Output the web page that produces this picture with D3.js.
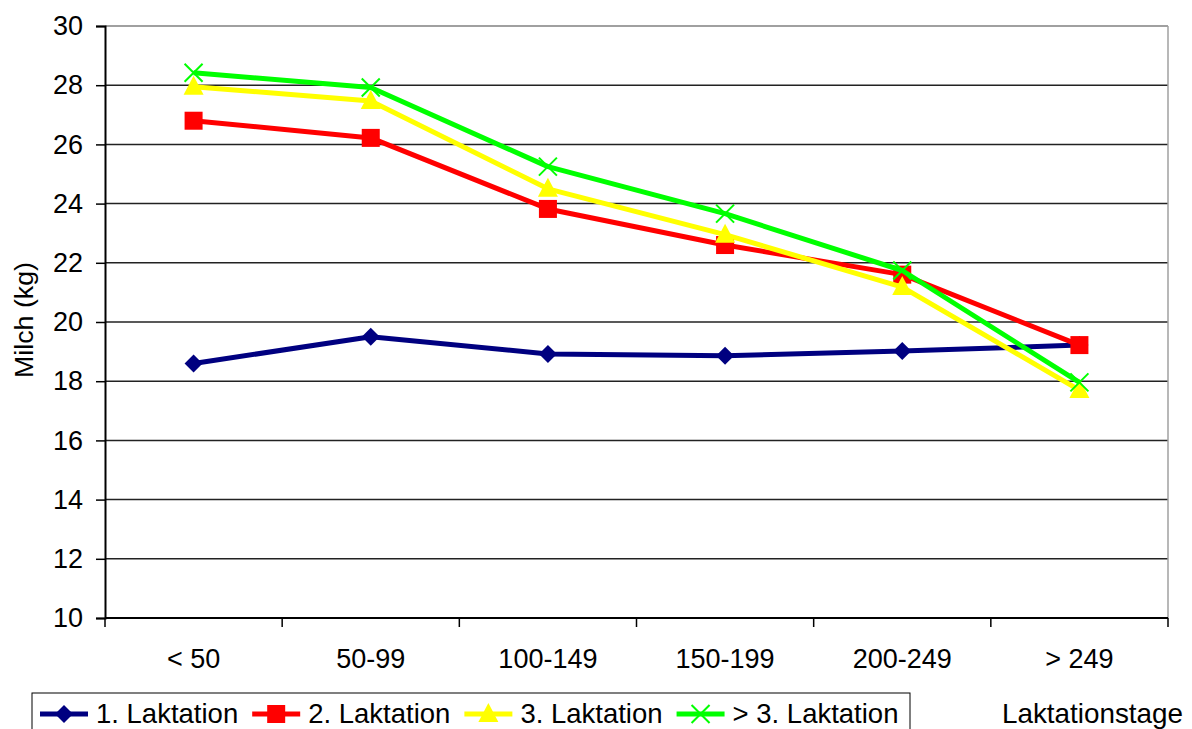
<!DOCTYPE html>
<html>
<head>
<meta charset="utf-8">
<script src="https://cdn.jsdelivr.net/npm/d3@7"></script>
<style>
  body { margin: 0; background: #fff; }
  svg { display: block; font-family: "Liberation Sans", Arial, sans-serif; }
</style>
</head>
<body>
<svg id="chart" width="1192" height="729"></svg>
<script>
// data
const stages = ["< 50", "50-99", "100-149", "150-199", "200-249", "> 249"];
const lakt1 = [18.6, 19.5, 18.92, 18.86, 19.02, 19.22];
const lakt2 = [26.8, 26.22, 23.82, 22.6, 21.6, 19.22];
const lakt3 = [27.95, 27.47, 24.5, 22.95, 21.18, 17.7];
const lakt4 = [28.42, 27.92, 25.25, 23.66, 21.74, 17.96];
const yTicks = [10, 12, 14, 16, 18, 20, 22, 24, 26, 28, 30];

const seriesNames = ["1. Laktation", "2. Laktation", "3. Laktation", "> 3. Laktation"];
const seriesColors = ["#000080", "#ff0000", "#ffff00", "#00ff00"];
const seriesMarkers = ["diamond", "square", "triangle", "cross"];
const seriesValues = [lakt1, lakt2, lakt3, lakt4];

const svg = d3.select("#chart");
const plot = { left: 105, right: 1168, top: 26, bottom: 618 };

const x = d3.scaleBand().domain(stages).range([plot.left, plot.right]);
const y = d3.scaleLinear().domain([10, 30]).range([plot.bottom, plot.top]);

// grid lines
svg.append("g")
  .selectAll("line")
  .data(yTicks.filter(t => t > 10))
  .join("line")
  .attr("x1", plot.left).attr("x2", plot.right)
  .attr("y1", d => y(d)).attr("y2", d => y(d))
  .attr("stroke", d => d === 30 ? "#808080" : "#222")
  .attr("stroke-width", 1.5);

// right border
svg.append("line")
  .attr("x1", plot.right).attr("x2", plot.right)
  .attr("y1", plot.top).attr("y2", plot.bottom)
  .attr("stroke", "#a0a0a0").attr("stroke-width", 1.5);

// y axis
const yAxis = svg.append("g").attr("transform", `translate(${plot.left},0)`)
  .call(d3.axisLeft(y).tickValues(yTicks).tickSize(9).tickPadding(13).tickFormat(d3.format("d")));
yAxis.select(".domain").attr("stroke", "#000").attr("stroke-width", 2);
yAxis.selectAll(".tick line").attr("stroke", "#000").attr("stroke-width", 1.5);
yAxis.selectAll(".tick text")
  .attr("font-size", 27).attr("fill", "#000")
  .attr("font-family", "Liberation Sans, Arial, sans-serif");

// x axis: ticks at band boundaries
const xAxis = svg.append("g").attr("transform", `translate(0,${plot.bottom})`);
xAxis.append("line")
  .attr("x1", plot.left).attr("x2", plot.right)
  .attr("stroke", "#000").attr("stroke-width", 2);
const bounds = stages.map(s => x(s)).concat([x(stages[stages.length - 1]) + x.bandwidth()]);
xAxis.selectAll(".xt")
  .data(bounds)
  .join("line")
  .attr("x1", d => d).attr("x2", d => d)
  .attr("y1", 0).attr("y2", 9)
  .attr("stroke", "#000").attr("stroke-width", 1.5);
xAxis.selectAll("text")
  .data(stages)
  .join("text")
  .attr("x", d => x(d) + x.bandwidth() / 2)
  .attr("y", 50)
  .attr("text-anchor", "middle")
  .attr("font-size", 27)
  .text(d => d);

// y axis title
svg.append("text")
  .attr("transform", "translate(33,320) rotate(-90)")
  .attr("text-anchor", "middle")
  .attr("font-size", 25)
  .attr("textLength", 116)
  .attr("lengthAdjust", "spacingAndGlyphs")
  .text("Milch (kg)");

// x axis title
svg.append("text")
  .attr("x", 1002).attr("y", 723)
  .attr("font-size", 28)
  .attr("textLength", 181)
  .attr("lengthAdjust", "spacingAndGlyphs")
  .text("Laktationstage");

function drawMarker(g, type, color) {
  if (type === "diamond") {
    g.append("path").attr("d", "M0,-9L9,0L0,9L-9,0Z").attr("fill", color);
  } else if (type === "square") {
    g.append("rect").attr("x", -9).attr("y", -9).attr("width", 18).attr("height", 18).attr("fill", color);
  } else if (type === "triangle") {
    g.append("path").attr("d", "M0,-11L10,8L-10,8Z").attr("fill", color);
  } else {
    g.append("path").attr("d", "M-9,-9L9,9M-9,9L9,-9")
      .attr("stroke", color).attr("stroke-width", 2).attr("fill", "none");
  }
}

const line = d3.line()
  .x((d, i) => x(stages[i]) + x.bandwidth() / 2)
  .y(d => y(d));

seriesValues.forEach((vals, k) => {
  const g = svg.append("g");
  g.append("path")
    .datum(vals)
    .attr("d", line)
    .attr("fill", "none")
    .attr("stroke", seriesColors[k])
    .attr("stroke-width", 5)
    .attr("stroke-linejoin", "round");
  g.selectAll("g")
    .data(vals)
    .join("g")
    .attr("transform", (d, i) => `translate(${x(stages[i]) + x.bandwidth() / 2},${y(d)})`)
    .each(function () { drawMarker(d3.select(this), seriesMarkers[k], seriesColors[k]); });
});

// legend
const legend = svg.append("g");
legend.append("rect")
  .attr("x", 32).attr("y", 693).attr("width", 878).attr("height", 60)
  .attr("fill", "#fff").attr("stroke", "#000").attr("stroke-width", 1);
let lx = 40;
seriesNames.forEach((name, k) => {
  const item = legend.append("g").attr("transform", `translate(${lx},714)`);
  item.append("line").attr("x1", 0).attr("x2", 48)
    .attr("stroke", seriesColors[k]).attr("stroke-width", 5);
  const m = item.append("g").attr("transform", "translate(24,0)");
  drawMarker(m, seriesMarkers[k], seriesColors[k]);
  const t = item.append("text")
    .attr("x", 56).attr("y", 9)
    .attr("font-size", 27.5)
    .text(name);
  lx += 56 + t.node().getComputedTextLength() + 14;
});
</script>
</body>
</html>
